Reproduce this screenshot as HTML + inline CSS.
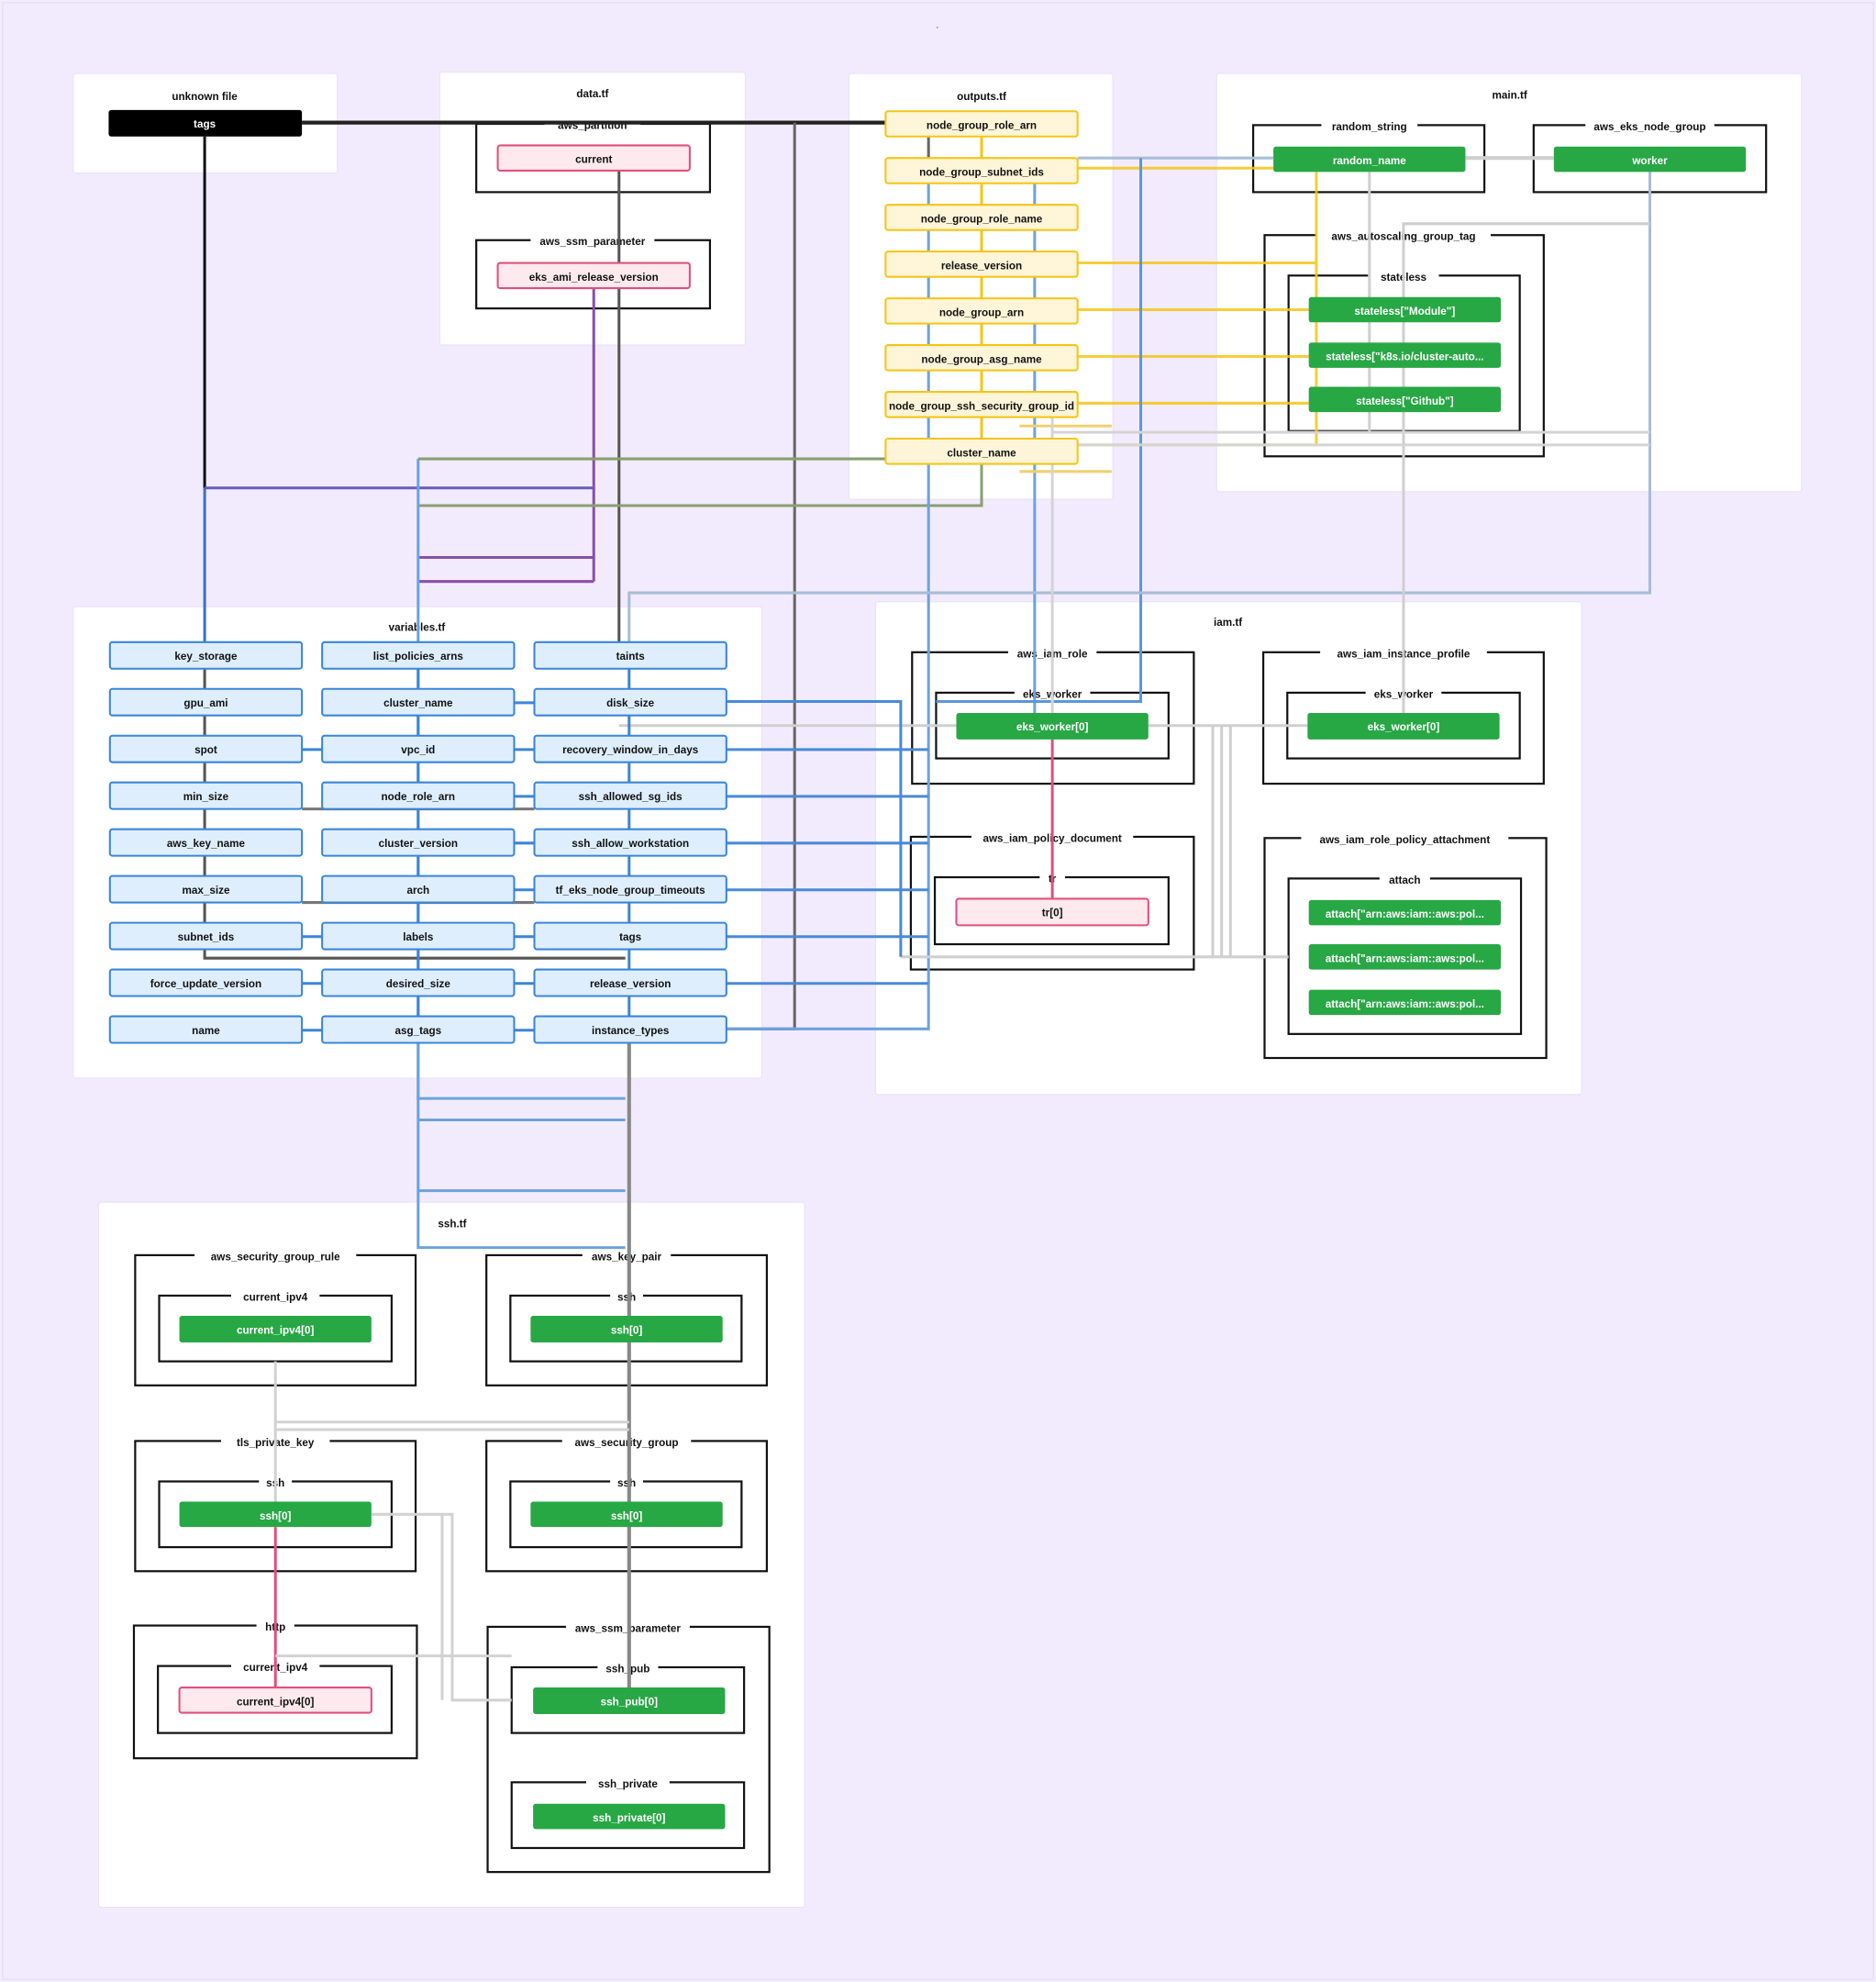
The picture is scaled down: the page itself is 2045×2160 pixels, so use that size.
<!DOCTYPE html>
<html><head><meta charset="utf-8"><style>
html,body{margin:0;padding:0;background:#f3ecfe;}
svg{display:block}
text{font-family:"Liberation Sans",sans-serif;font-weight:bold;text-anchor:middle;}
.t{font-size:8.5px;fill:#111;}
.bl{font-size:8.5px;fill:#111;}
.nw{font-size:8.5px;fill:#fff;}
.cl{fill:#fff;stroke:#ebe4f7;stroke-width:1;}
.bx{fill:none;stroke:#111;stroke-width:1.6;}
.w{fill:#fff;}
.g{fill:#28a745;}
.y{fill:#fff5d9;stroke:#f5c518;stroke-width:1.5;}
.b{fill:#dfeefd;stroke:#3a86d8;stroke-width:1.5;}
.p{fill:#feeaee;stroke:#e0507e;stroke-width:1.5;}
.e{fill:none;stroke-width:2.2;}
</style></head><body>
<svg width="2045" height="2160" viewBox="0 0 1485 1568" preserveAspectRatio="none" xmlns="http://www.w3.org/2000/svg">
<rect x="0" y="0" width="1485" height="1568" fill="#f3ecfe"/>
<rect x="2" y="2" width="1481" height="1564" fill="#f2ebfd" stroke="#e8e0f8"/>
<text class="t" x="742" y="22" style="font-size:5px">.</text>
<!-- clusters -->
<rect class="cl" x="58" y="58" width="209" height="79" rx="2"/>
<rect class="cl" x="348" y="57" width="242" height="216" rx="2"/>
<rect class="cl" x="672" y="58" width="209" height="337" rx="2"/>
<rect class="cl" x="963" y="58" width="463" height="331" rx="2"/>
<rect class="cl" x="58" y="480" width="545" height="373" rx="2"/>
<rect class="cl" x="693" y="476" width="559" height="390" rx="2"/>
<rect class="cl" x="78" y="951" width="559" height="558" rx="2"/>
<text class="t" x="162" y="79">unknown file</text>
<text class="t" x="469" y="77">data.tf</text>
<text class="t" x="777" y="79">outputs.tf</text>
<text class="t" x="1195" y="78">main.tf</text>
<text class="t" x="330" y="499">variables.tf</text>
<text class="t" x="972" y="495">iam.tf</text>
<text class="t" x="358" y="971">ssh.tf</text>
<!-- resource boxes -->
<g>
<rect class="bx" x="377" y="98" width="185" height="54"/><rect class="w" x="431" y="96" width="76" height="4"/><text class="bl" x="469" y="102">aws_partition</text>
<rect class="bx" x="377" y="190" width="185" height="54"/><rect class="w" x="420" y="188" width="98" height="4"/><text class="bl" x="469" y="194">aws_ssm_parameter</text>
<rect class="bx" x="992" y="99" width="183" height="53"/><rect class="w" x="1046" y="97" width="76" height="4"/><text class="bl" x="1084" y="103">random_string</text>
<rect class="bx" x="1214" y="99" width="184" height="53"/><rect class="w" x="1255" y="97" width="102" height="4"/><text class="bl" x="1306" y="103">aws_eks_node_group</text>
<rect class="bx" x="1001" y="186" width="221" height="175"/><rect class="w" x="1042" y="184" width="138" height="4"/><text class="bl" x="1111" y="190">aws_autoscaling_group_tag</text>
<rect class="bx" x="1020" y="218" width="183" height="123"/><rect class="w" x="1083" y="216" width="56" height="4"/><text class="bl" x="1111" y="222">stateless</text>
<rect class="bx" x="722" y="516" width="223" height="104"/><rect class="w" x="798" y="514" width="70" height="4"/><text class="bl" x="833" y="520">aws_iam_role</text>
<rect class="bx" x="741" y="548" width="184" height="52"/><rect class="w" x="803" y="546" width="60" height="4"/><text class="bl" x="833" y="552">eks_worker</text>
<rect class="bx" x="1000" y="516" width="222" height="104"/><rect class="w" x="1045" y="514" width="132" height="4"/><text class="bl" x="1111" y="520">aws_iam_instance_profile</text>
<rect class="bx" x="1019" y="548" width="184" height="52"/><rect class="w" x="1081" y="546" width="60" height="4"/><text class="bl" x="1111" y="552">eks_worker</text>
<rect class="bx" x="721" y="662" width="224" height="105"/><rect class="w" x="769" y="660" width="128" height="4"/><text class="bl" x="833" y="666">aws_iam_policy_document</text>
<rect class="bx" x="740" y="694" width="185" height="53"/><rect class="w" x="823" y="692" width="20" height="4"/><text class="bl" x="833" y="698">tr</text>
<rect class="bx" x="1001" y="663" width="223" height="174"/><rect class="w" x="1030" y="661" width="164" height="4"/><text class="bl" x="1112" y="667">aws_iam_role_policy_attachment</text>
<rect class="bx" x="1020" y="695" width="184" height="123"/><rect class="w" x="1092" y="693" width="40" height="4"/><text class="bl" x="1112" y="699">attach</text>
<rect class="bx" x="107" y="993" width="222" height="103"/><rect class="w" x="154" y="991" width="128" height="4"/><text class="bl" x="218" y="997">aws_security_group_rule</text>
<rect class="bx" x="126" y="1025" width="184" height="52"/><rect class="w" x="183" y="1023" width="70" height="4"/><text class="bl" x="218" y="1029">current_ipv4</text>
<rect class="bx" x="385" y="993" width="222" height="103"/><rect class="w" x="461" y="991" width="70" height="4"/><text class="bl" x="496" y="997">aws_key_pair</text>
<rect class="bx" x="404" y="1025" width="183" height="52"/><rect class="w" x="483" y="1023" width="26" height="4"/><text class="bl" x="496" y="1029">ssh</text>
<rect class="bx" x="107" y="1140" width="222" height="103"/><rect class="w" x="175" y="1138" width="86" height="4"/><text class="bl" x="218" y="1144">tls_private_key</text>
<rect class="bx" x="126" y="1172" width="184" height="52"/><rect class="w" x="205" y="1170" width="26" height="4"/><text class="bl" x="218" y="1176">ssh</text>
<rect class="bx" x="385" y="1140" width="222" height="103"/><rect class="w" x="445" y="1138" width="102" height="4"/><text class="bl" x="496" y="1144">aws_security_group</text>
<rect class="bx" x="404" y="1172" width="183" height="52"/><rect class="w" x="483" y="1170" width="26" height="4"/><text class="bl" x="496" y="1176">ssh</text>
<rect class="bx" x="106" y="1286" width="224" height="105"/><rect class="w" x="203" y="1284" width="30" height="4"/><text class="bl" x="218" y="1290">http</text>
<rect class="bx" x="125" y="1318" width="185" height="53"/><rect class="w" x="183" y="1316" width="70" height="4"/><text class="bl" x="218" y="1322">current_ipv4</text>
<rect class="bx" x="386" y="1287" width="223" height="194"/><rect class="w" x="448" y="1285" width="98" height="4"/><text class="bl" x="497" y="1291">aws_ssm_parameter</text>
<rect class="bx" x="405" y="1319" width="184" height="52"/><rect class="w" x="473" y="1317" width="48" height="4"/><text class="bl" x="497" y="1323">ssh_pub</text>
<rect class="bx" x="405" y="1410" width="184" height="52"/><rect class="w" x="464" y="1408" width="66" height="4"/><text class="bl" x="497" y="1414">ssh_private</text>
</g>
<!-- edges -->
<g class="e">
<path d="M239 97H701" stroke="#222" stroke-width="3"/>
<path d="M162 108V386" stroke="#111"/>
<path d="M162 386V508" stroke="#3a72c8"/>
<path d="M162 386H470" stroke="#6a5cb8"/>
<path d="M470 228V460M331 441H470M331 460H470" stroke="#8a4fa8"/>
<path d="M490 135V508" stroke="#555"/>
<path d="M629 97V814H575" stroke="#666"/>
<path d="M735 108V125" stroke="#666"/>
<path d="M331 363H701M331 400H777V367" stroke="#8a9f70"/>
<path d="M331 363V987H495M331 869H495M331 886H495M331 942H495" stroke="#6ea2db"/>
<path d="M735 145V814H575" stroke="#6ea2db"/>
<path d="M819 145V564" stroke="#6ea2db"/>
<path d="M777 108V347" stroke="#f5c518"/>
<path d="M853 133H1008M853 208H1042M853 245H1036M853 282H1036M853 319H1036M853 352H1042V136" stroke="#f5c518" opacity="0.85"/>
<path d="M807 337H880M807 373H880" stroke="#f0d070"/>
<path d="M853 125H1008" stroke="#a9bfd6"/>
<path d="M1160 125H1230" stroke="#cfcfcf" stroke-width="3"/>
<path d="M903 125V555H741" stroke="#5b97d8"/>
<path d="M1306 136V469H498V508" stroke="#a8bcd6"/>
<path d="M1306 177H1111V564" stroke="#cfcfcf"/>
<path d="M1084 136V341" stroke="#cfcfcf"/>
<path d="M833 342H1306M833 352H1306M833 330V564" stroke="#d4d4d4"/>
<path d="M490 574H757M909 574H1035M960 574V757M967 574V757M974 574V757M713 757H1020" stroke="#cfcfcf"/>
<path d="M833 585V711" stroke="#e0507e"/>
<path d="M575 555H713V574M575 593H735M575 630H735M575 667H735M575 704H735M575 741H735M575 778H735M713 757V555" stroke="#4a8ad8"/>
<path d="M239 593H255M407 556H423M407 593H423M407 630H423M407 667H423M407 704H423M239 741H255M407 741H423M239 778H255M407 778H423M239 815H255M407 815H423" stroke="#3a86d8"/>
<path d="M162 529V545M162 566V582M162 603V619M162 640V656M162 677V693M162 714V730M162 751V758H495" stroke="#555"/>
<path d="M239 640H423M239 714H423" stroke="#777"/>
<path d="M331 529V804M498 529V804" stroke="#3a86d8"/>
<path d="M331 825V870" stroke="#6ea2db"/>
<path d="M498 825V1335" stroke="#888" stroke-width="3"/>
<path d="M218 1077V1188M218 1125H498M218 1131H498" stroke="#d2d2d2"/>
<path d="M218 1208V1335" stroke="#e0507e"/>
<path d="M294 1198H358V1345H405M350 1198V1345M218 1310H405" stroke="#d2d2d2"/>
</g>
<!-- nodes -->
<rect x="86" y="87" width="153" height="21" rx="2" fill="#000"/><text class="nw" x="162" y="101">tags</text>
<rect class="p" x="394" y="115" width="152" height="20" rx="2"/><text class="t" x="470" y="129">current</text>
<rect class="p" x="394" y="208" width="152" height="20" rx="2"/><text class="t" x="470" y="222">eks_ami_release_version</text>
<g>
<rect class="y" x="701" y="88" width="152" height="20" rx="2"/><text class="t" x="777" y="102">node_group_role_arn</text>
<rect class="y" x="701" y="125" width="152" height="20" rx="2"/><text class="t" x="777" y="139">node_group_subnet_ids</text>
<rect class="y" x="701" y="162" width="152" height="20" rx="2"/><text class="t" x="777" y="176">node_group_role_name</text>
<rect class="y" x="701" y="199" width="152" height="20" rx="2"/><text class="t" x="777" y="213">release_version</text>
<rect class="y" x="701" y="236" width="152" height="20" rx="2"/><text class="t" x="777" y="250">node_group_arn</text>
<rect class="y" x="701" y="273" width="152" height="20" rx="2"/><text class="t" x="777" y="287">node_group_asg_name</text>
<rect class="y" x="701" y="310" width="152" height="20" rx="2"/><text class="t" x="777" y="324">node_group_ssh_security_group_id</text>
<rect class="y" x="701" y="347" width="152" height="20" rx="2"/><text class="t" x="777" y="361">cluster_name</text>
</g>
<g>
<rect class="g" x="1008" y="116" width="152" height="20" rx="2"/><text class="nw" x="1084" y="130">random_name</text>
<rect class="g" x="1230" y="116" width="152" height="20" rx="2"/><text class="nw" x="1306" y="130">worker</text>
<rect class="g" x="1036" y="235" width="152" height="20" rx="2"/><text class="nw" x="1112" y="249">stateless["Module"]</text>
<rect class="g" x="1036" y="271" width="152" height="20" rx="2"/><text class="nw" x="1112" y="285">stateless["k8s.io/cluster-auto...</text>
<rect class="g" x="1036" y="306" width="152" height="20" rx="2"/><text class="nw" x="1112" y="320">stateless["Github"]</text>
</g>
<g>
<rect class="b" x="87" y="508" width="152" height="21" rx="2"/><text class="t" x="163" y="522">key_storage</text>
<rect class="b" x="255" y="508" width="152" height="21" rx="2"/><text class="t" x="331" y="522">list_policies_arns</text>
<rect class="b" x="423" y="508" width="152" height="21" rx="2"/><text class="t" x="499" y="522">taints</text>
<rect class="b" x="87" y="545" width="152" height="21" rx="2"/><text class="t" x="163" y="559">gpu_ami</text>
<rect class="b" x="255" y="545" width="152" height="21" rx="2"/><text class="t" x="331" y="559">cluster_name</text>
<rect class="b" x="423" y="545" width="152" height="21" rx="2"/><text class="t" x="499" y="559">disk_size</text>
<rect class="b" x="87" y="582" width="152" height="21" rx="2"/><text class="t" x="163" y="596">spot</text>
<rect class="b" x="255" y="582" width="152" height="21" rx="2"/><text class="t" x="331" y="596">vpc_id</text>
<rect class="b" x="423" y="582" width="152" height="21" rx="2"/><text class="t" x="499" y="596">recovery_window_in_days</text>
<rect class="b" x="87" y="619" width="152" height="21" rx="2"/><text class="t" x="163" y="633">min_size</text>
<rect class="b" x="255" y="619" width="152" height="21" rx="2"/><text class="t" x="331" y="633">node_role_arn</text>
<rect class="b" x="423" y="619" width="152" height="21" rx="2"/><text class="t" x="499" y="633">ssh_allowed_sg_ids</text>
<rect class="b" x="87" y="656" width="152" height="21" rx="2"/><text class="t" x="163" y="670">aws_key_name</text>
<rect class="b" x="255" y="656" width="152" height="21" rx="2"/><text class="t" x="331" y="670">cluster_version</text>
<rect class="b" x="423" y="656" width="152" height="21" rx="2"/><text class="t" x="499" y="670">ssh_allow_workstation</text>
<rect class="b" x="87" y="693" width="152" height="21" rx="2"/><text class="t" x="163" y="707">max_size</text>
<rect class="b" x="255" y="693" width="152" height="21" rx="2"/><text class="t" x="331" y="707">arch</text>
<rect class="b" x="423" y="693" width="152" height="21" rx="2"/><text class="t" x="499" y="707">tf_eks_node_group_timeouts</text>
<rect class="b" x="87" y="730" width="152" height="21" rx="2"/><text class="t" x="163" y="744">subnet_ids</text>
<rect class="b" x="255" y="730" width="152" height="21" rx="2"/><text class="t" x="331" y="744">labels</text>
<rect class="b" x="423" y="730" width="152" height="21" rx="2"/><text class="t" x="499" y="744">tags</text>
<rect class="b" x="87" y="767" width="152" height="21" rx="2"/><text class="t" x="163" y="781">force_update_version</text>
<rect class="b" x="255" y="767" width="152" height="21" rx="2"/><text class="t" x="331" y="781">desired_size</text>
<rect class="b" x="423" y="767" width="152" height="21" rx="2"/><text class="t" x="499" y="781">release_version</text>
<rect class="b" x="87" y="804" width="152" height="21" rx="2"/><text class="t" x="163" y="818">name</text>
<rect class="b" x="255" y="804" width="152" height="21" rx="2"/><text class="t" x="331" y="818">asg_tags</text>
<rect class="b" x="423" y="804" width="152" height="21" rx="2"/><text class="t" x="499" y="818">instance_types</text>
</g>
<g>
<rect class="g" x="757" y="564" width="152" height="21" rx="2"/><text class="nw" x="833" y="578">eks_worker[0]</text>
<rect class="g" x="1035" y="564" width="152" height="21" rx="2"/><text class="nw" x="1111" y="578">eks_worker[0]</text>
<rect class="p" x="757" y="711" width="152" height="21" rx="2"/><text class="t" x="833" y="725">tr[0]</text>
<rect class="g" x="1036" y="712" width="152" height="20" rx="2"/><text class="nw" x="1112" y="726">attach["arn:aws:iam::aws:pol...</text>
<rect class="g" x="1036" y="747" width="152" height="20" rx="2"/><text class="nw" x="1112" y="761">attach["arn:aws:iam::aws:pol...</text>
<rect class="g" x="1036" y="783" width="152" height="20" rx="2"/><text class="nw" x="1112" y="797">attach["arn:aws:iam::aws:pol...</text>
<rect class="g" x="142" y="1041" width="152" height="21" rx="2"/><text class="nw" x="218" y="1055">current_ipv4[0]</text>
<rect class="g" x="420" y="1041" width="152" height="21" rx="2"/><text class="nw" x="496" y="1055">ssh[0]</text>
<rect class="g" x="142" y="1188" width="152" height="20" rx="2"/><text class="nw" x="218" y="1202">ssh[0]</text>
<rect class="g" x="420" y="1188" width="152" height="20" rx="2"/><text class="nw" x="496" y="1202">ssh[0]</text>
<rect class="p" x="142" y="1335" width="152" height="20" rx="2"/><text class="t" x="218" y="1349">current_ipv4[0]</text>
<rect class="g" x="422" y="1335" width="152" height="21" rx="2"/><text class="nw" x="498" y="1349">ssh_pub[0]</text>
<rect class="g" x="422" y="1427" width="152" height="20" rx="2"/><text class="nw" x="498" y="1441">ssh_private[0]</text>
</g>
</svg>
</body></html>
